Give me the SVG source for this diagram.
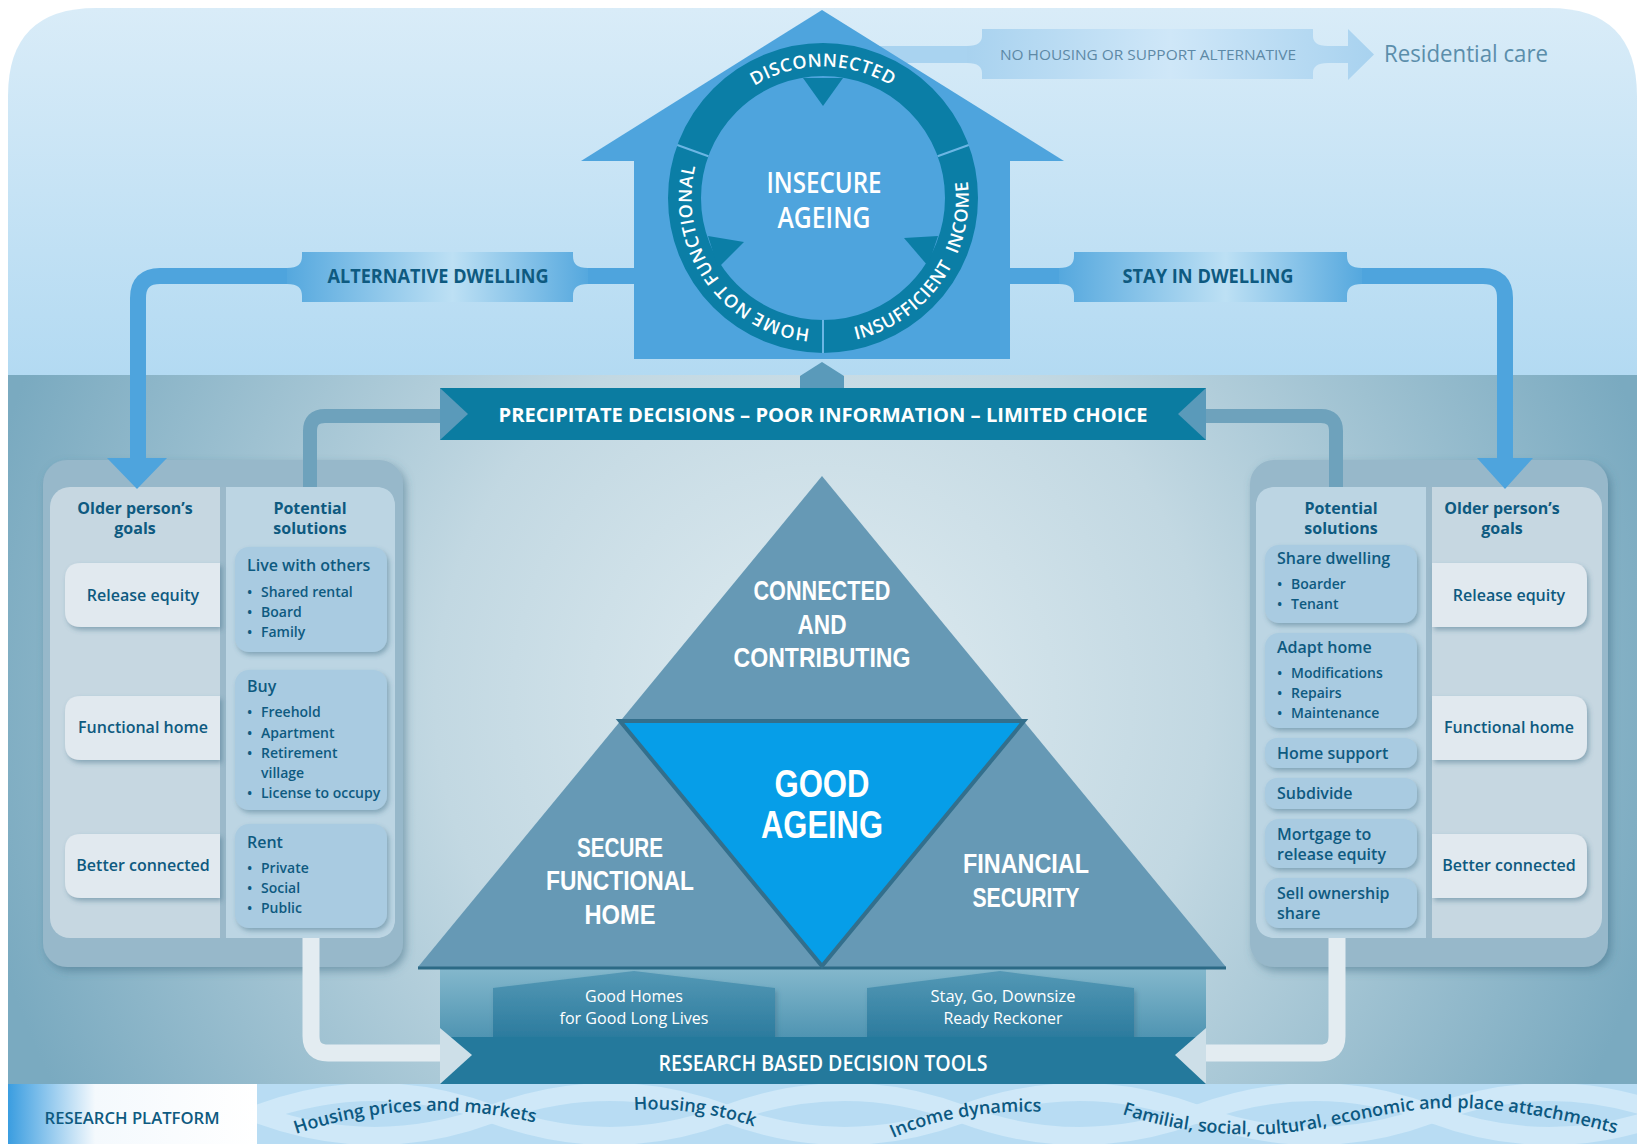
<svg xmlns="http://www.w3.org/2000/svg" width="1647" height="1144" viewBox="0 0 1647 1144">
<defs>
<style>
.f{font-family:'Open Sans','Liberation Sans',sans-serif}
.ls{font-family:'Liberation Sans',Arial,sans-serif}
.dk{fill:#0e5a80}
.wh{fill:#ffffff}
.hdr{font-size:16px;font-weight:700;text-anchor:middle}
.goal{font-size:16px;font-weight:600;text-anchor:middle}
.st{font-size:16px;font-weight:600}
.bl{font-size:14px;font-weight:600}
.cap{font-weight:700;text-anchor:middle}
.ring{font-size:18px;font-weight:600;fill:#ffffff;letter-spacing:0.6px}
.wave{font-size:18px;font-weight:600;fill:#0c5880}
.gbox{fill:#e1e9ef}
.sbox{fill:#a9cbe1}
</style>
<linearGradient id="topBand" x1="0" y1="8" x2="0" y2="375" gradientUnits="userSpaceOnUse">
<stop offset="0" stop-color="#d9ecf8"/><stop offset="1" stop-color="#b3daf2"/>
</linearGradient>
<radialGradient id="lowBg" cx="822" cy="700" r="860" gradientUnits="userSpaceOnUse">
<stop offset="0" stop-color="#e0ecf1"/><stop offset="0.45" stop-color="#c2d8e2"/><stop offset="1" stop-color="#7aaac0"/>
</radialGradient>
<linearGradient id="lbl" x1="0" y1="0" x2="1" y2="0">
<stop offset="0" stop-color="#55a8de"/><stop offset="0.55" stop-color="#bde0f4"/><stop offset="1" stop-color="#55a8de"/>
</linearGradient>
<linearGradient id="nh" x1="0" y1="0" x2="1" y2="0">
<stop offset="0" stop-color="#a8d2ef"/><stop offset="0.5" stop-color="#cfe7f8"/><stop offset="1" stop-color="#a8d2ef"/>
</linearGradient>
<linearGradient id="plat" x1="8" y1="0" x2="257" y2="0" gradientUnits="userSpaceOnUse">
<stop offset="0" stop-color="#3a9de0"/><stop offset="0.35" stop-color="#f4f9fd"/><stop offset="1" stop-color="#ffffff"/>
</linearGradient>
<linearGradient id="block" x1="0" y1="966" x2="0" y2="1040" gradientUnits="userSpaceOnUse">
<stop offset="0" stop-color="#86b9cd"/><stop offset="1" stop-color="#4d93b1"/>
</linearGradient>
<linearGradient id="pent" x1="0" y1="971" x2="0" y2="1040" gradientUnits="userSpaceOnUse">
<stop offset="0" stop-color="#5498b5"/><stop offset="1" stop-color="#2a7a9d"/>
</linearGradient>
<filter id="sh" x="-15%" y="-15%" width="135%" height="140%">
<feDropShadow dx="2" dy="3" stdDeviation="2.5" flood-color="#3c6a82" flood-opacity="0.45"/>
</filter>
<filter id="shBig" x="-10%" y="-10%" width="125%" height="125%">
<feDropShadow dx="3" dy="4" stdDeviation="4" flood-color="#3c6a82" flood-opacity="0.5"/>
</filter>
<clipPath id="stripClip"><rect x="257" y="1084" width="1380" height="60"/></clipPath>
<path id="arcDis" d="M 699.43 153.03 A 131.5 131.5 0 0 1 946.57 153.03"/>
<path id="arcHome" d="M 850.34 326.62 A 131.5 131.5 0 0 1 725.28 285.99"/>
<path id="arcNot" d="M 797.91 327.08 A 131.5 131.5 0 0 1 698.67 240.81"/>
<path id="arcFunc" d="M 725.28 285.99 A 131.5 131.5 0 0 1 697.93 157.37"/>
<path id="arcInsuf" d="M 843.25 342.09 A 145.5 145.5 0 0 0 957.90 252.51"/>
<path id="arcInc" d="M 937.65 287.58 A 145.5 145.5 0 0 0 957.90 143.49"/>
<path id="w1" d="M 296 1134 Q 420 1092 548 1126"/>
<path id="w2" d="M 634 1110 Q 700 1106 764 1130"/>
<path id="w3" d="M 893 1138 Q 960 1108 1050 1112"/>
<path id="w4" d="M 1122 1114 C 1170 1130 1220 1136 1270 1134 C 1330 1131 1390 1106 1460 1108 C 1530 1110 1590 1126 1646 1142"/>
</defs>

<!-- background -->
<g id="background">
<path d="M 8 375 V 96 Q 8 8 96 8 H 1549 Q 1637 8 1637 96 V 375 Z" fill="url(#topBand)"/>
<rect x="8" y="375" width="1629" height="710" fill="url(#lowBg)"/>
</g>

<!-- research platform strip -->
<g id="research-platform">
<rect x="8" y="1084" width="249" height="60" fill="url(#plat)"/>
<text class="f" x="132" y="1124" font-size="17" font-weight="600" fill="#0e5a80" text-anchor="middle" textLength="175" lengthAdjust="spacingAndGlyphs">RESEARCH PLATFORM</text>
<rect x="257" y="1084" width="1380" height="60" fill="#b8dcf3"/>
<g clip-path="url(#stripClip)" fill="none" stroke="#d9eefb" stroke-width="18" opacity="0.7">
<path d="M 257 1114 q 117.5 -44 235 0 t 235 0 t 235 0 t 235 0 t 235 0 t 235 0"/>
<path d="M 257 1114 q 117.5 44 235 0 t 235 0 t 235 0 t 235 0 t 235 0 t 235 0"/>
</g>
<text class="f wave"><textPath href="#w1">Housing prices and markets</textPath></text>
<text class="f wave"><textPath href="#w2">Housing stock</textPath></text>
<text class="f wave"><textPath href="#w3">Income dynamics</textPath></text>
<text class="f wave" font-size="17.5"><textPath href="#w4">Familial, social, cultural, economic and place attachments</textPath></text>
</g>

<!-- house: insecure ageing -->
<g id="insecure-ageing">
<rect x="880" y="46" width="110" height="17" fill="#a9d3f0"/>
<polygon points="822,10 581,161 1064,161" fill="#4ea4dd"/>
<rect x="634" y="160" width="376" height="199" fill="#4ea4dd"/>
<circle cx="823" cy="198" r="138.5" fill="none" stroke="#0b7ea6" stroke-width="33"/>
<g stroke="#6cb6e4" stroke-width="2">
<line x1="708.4" y1="156.3" x2="677.3" y2="145"/>
<line x1="937.6" y1="156.3" x2="968.7" y2="145"/>
<line x1="823" y1="320" x2="823" y2="353"/>
</g>
<g fill="#0b7ea6">
<polygon points="803,78 843,78 823,106"/>
<polygon points="708,236 744,242 718,268"/>
<polygon points="904,238 938,236 928,266"/>
</g>
<text class="f ring"><textPath href="#arcDis" startOffset="50%" text-anchor="middle">DISCONNECTED</textPath></text>
<text class="f ring"><textPath href="#arcHome" startOffset="50%" text-anchor="middle">HOME</textPath></text>
<text class="f ring"><textPath href="#arcNot" startOffset="50%" text-anchor="middle">NOT</textPath></text>
<text class="f ring"><textPath href="#arcFunc" startOffset="50%" text-anchor="middle">FUNCTIONAL</textPath></text>
<text class="f ring"><textPath href="#arcInsuf" startOffset="50%" text-anchor="middle">INSUFFICIENT</textPath></text>
<text class="f ring"><textPath href="#arcInc" startOffset="50%" text-anchor="middle">INCOME</textPath></text>
<text class="f wh" font-size="28" font-weight="600" text-anchor="middle"><tspan x="824" y="193" textLength="115" lengthAdjust="spacingAndGlyphs">INSECURE</tspan><tspan x="824" y="228" textLength="93" lengthAdjust="spacingAndGlyphs">AGEING</tspan></text>
</g>

<!-- residential care -->
<g id="residential-care">
<text class="f" x="1384" y="62" font-size="23" fill="#5b8eab" textLength="164" lengthAdjust="spacingAndGlyphs">Residential care</text>
</g>

<!-- precipitate bar -->
<g id="precipitate-bar">
<polygon points="800,390 800,376 822,362 844,376 844,390" fill="#5a9aba"/>
<rect x="440" y="388" width="766" height="52" fill="#0b7ca1"/>
<text class="f wh cap" x="823" y="422" font-size="20" textLength="649" lengthAdjust="spacingAndGlyphs">PRECIPITATE DECISIONS – POOR INFORMATION – LIMITED CHOICE</text>
</g>

<!-- research based decision tools -->
<g id="decision-tools">
<rect x="440" y="966" width="766" height="74" fill="url(#block)"/>
<path d="M 493 988 L 634 971 L 775 988 L 775 1040 L 493 1040 Z" fill="url(#pent)" filter="url(#sh)"/>
<path d="M 867 988 L 1000 971 L 1134 988 L 1134 1040 L 867 1040 Z" fill="url(#pent)" filter="url(#sh)"/>
<rect x="440" y="1037" width="766" height="47" fill="#24799c"/>
<text class="f wh" font-size="16" text-anchor="middle"><tspan x="634" y="1002" textLength="98" lengthAdjust="spacingAndGlyphs">Good Homes</tspan><tspan x="634" y="1024" textLength="149" lengthAdjust="spacingAndGlyphs">for Good Long Lives</tspan></text>
<text class="f wh" font-size="16" text-anchor="middle"><tspan x="1003" y="1002" textLength="145" lengthAdjust="spacingAndGlyphs">Stay, Go, Downsize</tspan><tspan x="1003" y="1024" textLength="119" lengthAdjust="spacingAndGlyphs">Ready Reckoner</tspan></text>
<text class="f wh" x="823" y="1071" font-size="22" font-weight="600" text-anchor="middle" textLength="329" lengthAdjust="spacingAndGlyphs">RESEARCH BASED DECISION TOOLS</text>
</g>

<!-- left panel: alternative dwelling -->
<g id="left-panel">
<rect x="43" y="460" width="360" height="507" rx="24" fill="#97b8ca" filter="url(#shBig)"/>
<rect x="50" y="487" width="345" height="451" rx="20" fill="#c6d7e1"/>
<path d="M 226 487 H 375 Q 395 487 395 507 V 918 Q 395 938 375 938 H 226 Z" fill="#bcd5e3"/>
<rect x="220" y="487" width="6" height="451" fill="#9bb9ca"/>
<text class="f dk hdr"><tspan x="135" y="514">Older person’s</tspan><tspan x="135" y="534">goals</tspan></text>
<text class="f dk hdr"><tspan x="310" y="514">Potential</tspan><tspan x="310" y="534">solutions</tspan></text>
<path class="gbox" filter="url(#sh)" d="M 220 563 H 81 Q 65 563 65 579 V 611 Q 65 627 81 627 H 220 Z"/>
<path class="gbox" filter="url(#sh)" d="M 220 696 H 81 Q 65 696 65 712 V 744 Q 65 760 81 760 H 220 Z"/>
<path class="gbox" filter="url(#sh)" d="M 220 834 H 81 Q 65 834 65 850 V 882 Q 65 898 81 898 H 220 Z"/>
<text class="f dk goal" x="143" y="601">Release equity</text>
<text class="f dk goal" x="143" y="733">Functional home</text>
<text class="f dk goal" x="143" y="871">Better connected</text>
<rect class="sbox" filter="url(#sh)" x="235" y="547" width="152" height="105" rx="14"/>
<rect class="sbox" filter="url(#sh)" x="235" y="670" width="152" height="140" rx="14"/>
<rect class="sbox" filter="url(#sh)" x="235" y="824" width="152" height="104" rx="14"/>
<text class="f dk st" x="247" y="571">Live with others</text>
<text class="f dk bl"><tspan x="247" y="597">•</tspan><tspan x="247" y="617">•</tspan><tspan x="247" y="637">•</tspan></text>
<text class="f dk bl"><tspan x="261" y="597">Shared rental</tspan><tspan x="261" y="617">Board</tspan><tspan x="261" y="637">Family</tspan></text>
<text class="f dk st" x="247" y="692">Buy</text>
<text class="f dk bl"><tspan x="247" y="717">•</tspan><tspan x="247" y="738">•</tspan><tspan x="247" y="758">•</tspan><tspan x="247" y="798">•</tspan></text>
<text class="f dk bl"><tspan x="261" y="717">Freehold</tspan><tspan x="261" y="738">Apartment</tspan><tspan x="261" y="758">Retirement</tspan><tspan x="261" y="778">village</tspan><tspan x="261" y="798">License to occupy</tspan></text>
<text class="f dk st" x="247" y="848">Rent</text>
<text class="f dk bl"><tspan x="247" y="873">•</tspan><tspan x="247" y="893">•</tspan><tspan x="247" y="913">•</tspan></text>
<text class="f dk bl"><tspan x="261" y="873">Private</tspan><tspan x="261" y="893">Social</tspan><tspan x="261" y="913">Public</tspan></text>
</g>

<!-- right panel: stay in dwelling -->
<g id="right-panel">
<rect x="1250" y="460" width="358" height="507" rx="24" fill="#97b8ca" filter="url(#shBig)"/>
<rect x="1256" y="487" width="346" height="451" rx="20" fill="#c6d7e1"/>
<path d="M 1426 487 H 1276 Q 1256 487 1256 507 V 918 Q 1256 938 1276 938 H 1426 Z" fill="#bcd5e3"/>
<rect x="1426" y="487" width="6" height="451" fill="#9bb9ca"/>
<text class="f dk hdr"><tspan x="1341" y="514">Potential</tspan><tspan x="1341" y="534">solutions</tspan></text>
<text class="f dk hdr"><tspan x="1502" y="514">Older person’s</tspan><tspan x="1502" y="534">goals</tspan></text>
<path class="gbox" filter="url(#sh)" d="M 1432 563 H 1571 Q 1587 563 1587 579 V 611 Q 1587 627 1571 627 H 1432 Z"/>
<path class="gbox" filter="url(#sh)" d="M 1432 696 H 1571 Q 1587 696 1587 712 V 744 Q 1587 760 1571 760 H 1432 Z"/>
<path class="gbox" filter="url(#sh)" d="M 1432 834 H 1571 Q 1587 834 1587 850 V 882 Q 1587 898 1571 898 H 1432 Z"/>
<text class="f dk goal" x="1509" y="601">Release equity</text>
<text class="f dk goal" x="1509" y="733">Functional home</text>
<text class="f dk goal" x="1509" y="871">Better connected</text>
<rect class="sbox" filter="url(#sh)" x="1265" y="545" width="152" height="78" rx="14"/>
<rect class="sbox" filter="url(#sh)" x="1265" y="633" width="152" height="95" rx="14"/>
<rect class="sbox" filter="url(#sh)" x="1265" y="738" width="152" height="30" rx="12"/>
<rect class="sbox" filter="url(#sh)" x="1265" y="778" width="152" height="31" rx="12"/>
<rect class="sbox" filter="url(#sh)" x="1265" y="819" width="152" height="49" rx="14"/>
<rect class="sbox" filter="url(#sh)" x="1265" y="878" width="152" height="50" rx="14"/>
<text class="f dk st" x="1277" y="564">Share dwelling</text>
<text class="f dk bl"><tspan x="1277" y="589">•</tspan><tspan x="1277" y="609">•</tspan></text>
<text class="f dk bl"><tspan x="1291" y="589">Boarder</tspan><tspan x="1291" y="609">Tenant</tspan></text>
<text class="f dk st" x="1277" y="653">Adapt home</text>
<text class="f dk bl"><tspan x="1277" y="678">•</tspan><tspan x="1277" y="698">•</tspan><tspan x="1277" y="718">•</tspan></text>
<text class="f dk bl"><tspan x="1291" y="678">Modifications</tspan><tspan x="1291" y="698">Repairs</tspan><tspan x="1291" y="718">Maintenance</tspan></text>
<text class="f dk st" x="1277" y="759">Home support</text>
<text class="f dk st" x="1277" y="799">Subdivide</text>
<text class="f dk st"><tspan x="1277" y="840">Mortgage to</tspan><tspan x="1277" y="860">release equity</tspan></text>
<text class="f dk st"><tspan x="1277" y="899">Sell ownership</tspan><tspan x="1277" y="919">share</tspan></text>
</g>

<!-- pyramid -->
<g id="good-ageing-pyramid">
<polygon points="822,476 418,967 1226,967" fill="#6699b5"/>
<line x1="418" y1="968" x2="1226" y2="968" stroke="#2c6a86" stroke-width="3"/>
<polygon points="620,721 1024,721 822,966" fill="#069ee8" stroke="#336f8c" stroke-width="4" stroke-linejoin="miter"/>
<text class="ls wh cap" font-size="27"><tspan x="822" y="600" textLength="137" lengthAdjust="spacingAndGlyphs">CONNECTED</tspan><tspan x="822" y="634" textLength="49" lengthAdjust="spacingAndGlyphs">AND</tspan><tspan x="822" y="667" textLength="177" lengthAdjust="spacingAndGlyphs">CONTRIBUTING</tspan></text>
<text class="ls wh cap" font-size="38"><tspan x="822" y="797" textLength="95" lengthAdjust="spacingAndGlyphs">GOOD</tspan><tspan x="822" y="838" textLength="122" lengthAdjust="spacingAndGlyphs">AGEING</tspan></text>
<text class="ls wh cap" font-size="27"><tspan x="620" y="857" textLength="86" lengthAdjust="spacingAndGlyphs">SECURE</tspan><tspan x="620" y="890" textLength="148" lengthAdjust="spacingAndGlyphs">FUNCTIONAL</tspan><tspan x="620" y="924" textLength="71" lengthAdjust="spacingAndGlyphs">HOME</tspan></text>
<text class="ls wh cap" font-size="27"><tspan x="1026" y="873" textLength="126" lengthAdjust="spacingAndGlyphs">FINANCIAL</tspan><tspan x="1026" y="907" textLength="107" lengthAdjust="spacingAndGlyphs">SECURITY</tspan></text>
</g>

<!-- connectors -->
<g id="connectors">
<path d="M 634 276 H 160 Q 138 276 138 298 V 462" fill="none" stroke="#4ea4dd" stroke-width="16"/>
<polygon points="107,458 167,458 137,489" fill="#4ea4dd"/>
<path d="M 287 268 C 298 268 302 264 302 256 V 252 H 573 V 256 C 573 264 577 268 588 268 V 284 C 577 284 573 288 573 296 V 302 H 302 V 296 C 302 288 298 284 287 284 Z" fill="url(#lbl)"/>
<text class="f cap" x="438" y="283" font-size="19" fill="#0e5a80" textLength="221" lengthAdjust="spacingAndGlyphs">ALTERNATIVE DWELLING</text>

<path d="M 1010 276 H 1483 Q 1505 276 1505 298 V 462" fill="none" stroke="#4ea4dd" stroke-width="16"/>
<polygon points="1477,458 1533,458 1505,489" fill="#4ea4dd"/>
<path d="M 1059 268 C 1070 268 1074 264 1074 256 V 252 H 1347 V 256 C 1347 264 1351 268 1362 268 V 284 C 1351 284 1347 288 1347 296 V 302 H 1074 V 296 C 1074 288 1070 284 1059 284 Z" fill="url(#lbl)"/>
<text class="f cap" x="1208" y="283" font-size="19" fill="#0e5a80" textLength="171" lengthAdjust="spacingAndGlyphs">STAY IN DWELLING</text>

<path d="M 967 46 C 978 46 982 42 982 36 V 29 H 1313 V 36 C 1313 42 1317 46 1328 46 H 1348 V 29 L 1374 54.5 L 1348 80 V 63 H 1328 C 1317 63 1313 67 1313 73 V 79 H 982 V 73 C 982 67 978 63 967 63 Z" fill="url(#nh)"/>
<text class="f" x="1148" y="60" font-size="15" fill="#5d89a6" text-anchor="middle" textLength="296" lengthAdjust="spacingAndGlyphs">NO HOUSING OR SUPPORT ALTERNATIVE</text>

<path d="M 310 487 V 431 Q 310 416 325 416 H 445" fill="none" stroke="#6ea2bc" stroke-width="14"/>
<polygon points="440,388 468,414 440,440" fill="#5a9aba"/>
<path d="M 1336 487 V 431 Q 1336 416 1321 416 H 1201" fill="none" stroke="#6ea2bc" stroke-width="14"/>
<polygon points="1206,388 1178,414 1206,440" fill="#5a9aba"/>

<path d="M 311 938 V 1036 Q 311 1053 328 1053 H 445" fill="none" stroke="#e3ecf1" stroke-width="17"/>
<polygon points="440,1028 472,1055 440,1084" fill="#cddfe8"/>
<path d="M 1337 938 V 1036 Q 1337 1053 1320 1053 H 1201" fill="none" stroke="#e3ecf1" stroke-width="17"/>
<polygon points="1206,1028 1175,1055 1206,1084" fill="#cddfe8"/>
</g>
</svg>
